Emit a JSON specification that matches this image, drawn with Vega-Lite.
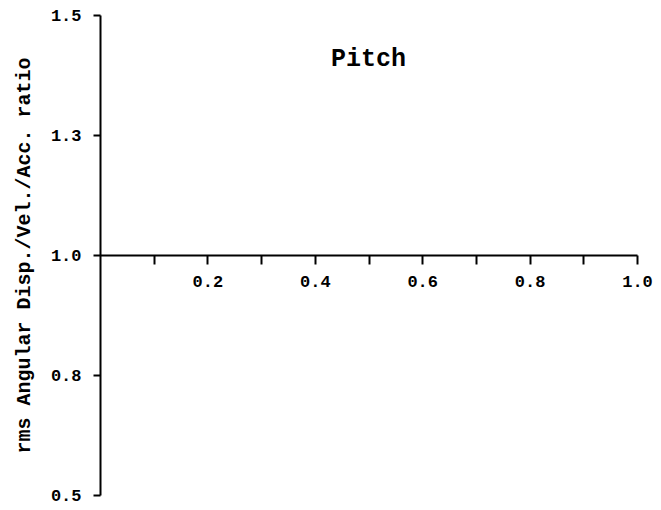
{
  "$schema": "https://vega.github.io/schema/vega-lite/v6.json",
  "autosize": {"type": "none"},
  "padding": {"left": 100, "top": 15, "right": 24, "bottom": 15},
  "width": 537,
  "height": 480,
  "background": "white",
  "config": {
    "view": {"stroke": null},
    "axis": {
      "grid": false,
      "domainColor": "black",
      "domainWidth": 2,
      "tickColor": "black",
      "tickWidth": 2,
      "labelColor": "black",
      "labelFont": "Liberation Mono",
      "labelFontWeight": "bold",
      "labelFontSize": 17,
      "titleFont": "Liberation Mono",
      "titleFontWeight": "bold",
      "titleFontSize": 20,
      "titleColor": "black"
    }
  },
  "data": {"values": [{"label": "Pitch", "x": 0.5, "y": 1.41}]},
  "mark": {"type": "text", "font": "Liberation Mono", "fontWeight": "bold", "fontSize": 25, "color": "black"},
  "encoding": {
    "text": {"field": "label"},
    "x": {
      "field": "x",
      "type": "quantitative",
      "scale": {"domain": [0, 1], "nice": false, "zero": false},
      "axis": {
        "orient": "bottom",
        "offset": -240,
        "title": null,
        "values": [0.1, 0.2, 0.3, 0.4, 0.5, 0.6, 0.7, 0.8, 0.9, 1.0],
        "labelExpr": "round(datum.value*10) % 2 == 0 ? format(datum.value, '.1f') : ''",
        "tickSize": 9,
        "labelPadding": 9,
        "labelFlush": false,
        "labelOverlap": false
      }
    },
    "y": {
      "field": "y",
      "type": "quantitative",
      "scale": {"domain": [0.5, 1.5], "nice": false, "zero": false},
      "axis": {
        "orient": "left",
        "title": "rms Angular Disp./Vel./Acc. ratio",
        "titlePadding": 17,
        "values": [0.5, 0.75, 1.0, 1.25, 1.5],
        "format": ".1f",
        "tickSize": 7,
        "labelPadding": 12,
        "labelFlush": false,
        "labelOverlap": false
      }
    }
  }
}
